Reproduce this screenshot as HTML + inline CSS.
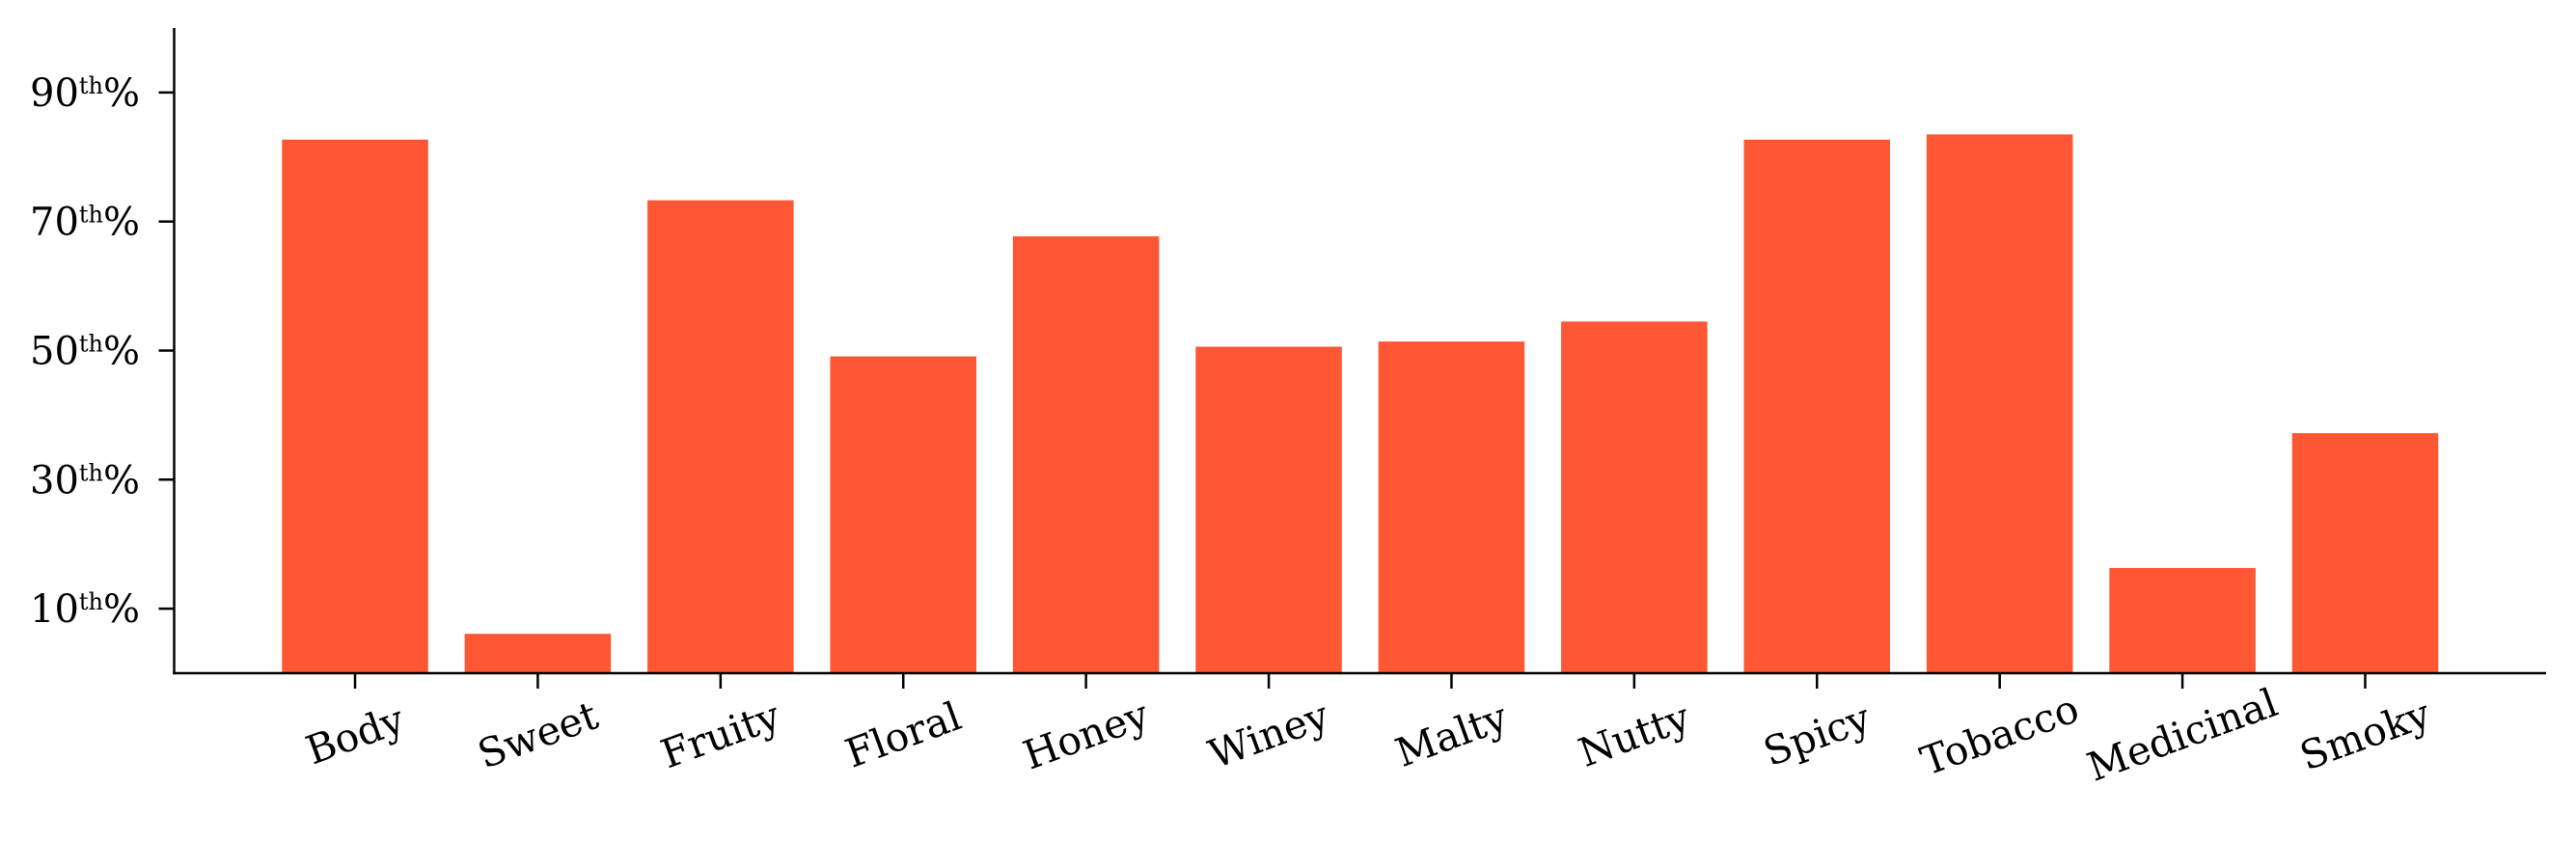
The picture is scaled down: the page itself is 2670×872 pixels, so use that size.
<!DOCTYPE html>
<html><head><meta charset="utf-8"><style>
html,body{margin:0;padding:0;background:#fff;}
svg text{font-family:"DejaVu Serif","Liberation Serif",serif;fill:#000;}
</style></head><body>
<svg id="chart" xmlns="http://www.w3.org/2000/svg" width="2670" height="867" viewBox="0 0 2670 867">
<rect width="2670" height="867" fill="#fff"/>
<g id="bars"></g>
<g id="axes"></g>
</svg>
<script>
const categories = ["Body","Sweet","Fruity","Floral","Honey","Winey","Malty","Nutty","Spicy","Tobacco","Medicinal","Smoky"];
const values = [82.7, 6.1, 73.3, 49.1, 67.7, 50.6, 51.4, 54.5, 82.7, 83.5, 16.3, 37.2];
const yTicks = [10, 30, 50, 70, 90];
const yTickLabels = ["10", "30", "50", "70", "90"];

const L = 180.5, R = 2639, T = 29, B = 698;
const xMin = -0.99, xMax = 11.99, yMin = 0, yMax = 100;
function xs(v){ return L + (v - xMin) / (xMax - xMin) * (R - L); }
function ys(v){ return B - (v - yMin) / (yMax - yMin) * (B - T); }
const NS = "http://www.w3.org/2000/svg";
const bars = document.getElementById('bars');
const axes = document.getElementById('axes');
const bw = (xs(1) - xs(0)) * 0.8;

categories.forEach((c, i) => {
  const r = document.createElementNS(NS, 'rect');
  r.setAttribute('x', xs(i) - bw / 2);
  r.setAttribute('y', ys(values[i]));
  r.setAttribute('width', bw);
  r.setAttribute('height', ys(0) - ys(values[i]));
  r.setAttribute('fill', '#FF5733');
  
  
  bars.appendChild(r);

  const t = document.createElementNS(NS, 'line');
  t.setAttribute('x1', xs(i)); t.setAttribute('x2', xs(i));
  t.setAttribute('y1', B); t.setAttribute('y2', B + 16);
  t.setAttribute('stroke', '#000'); t.setAttribute('stroke-width', '2.5');
  
  
  axes.appendChild(t);

  const lx = xs(i), ly = B + 78;
  const tx = document.createElementNS(NS, 'text');
  tx.setAttribute('x', lx); tx.setAttribute('y', ly);
  tx.setAttribute('text-anchor', 'middle');
  tx.setAttribute('font-size', '41');
  tx.setAttribute('transform', 'rotate(-20 ' + lx + ' ' + (ly - 14) + ')');
  tx.textContent = c;
  
  
  axes.appendChild(tx);
});

yTicks.forEach((v, i) => {
  const y = ys(v);
  const t = document.createElementNS(NS, 'line');
  t.setAttribute('x1', L - 16); t.setAttribute('x2', L);
  t.setAttribute('y1', y); t.setAttribute('y2', y);
  t.setAttribute('stroke', '#000'); t.setAttribute('stroke-width', '2.5');
  
  
  axes.appendChild(t);

  const tx = document.createElementNS(NS, 'text');
  tx.setAttribute('x', 31); tx.setAttribute('y', y + 14);
  tx.setAttribute('font-size', '40');
  tx.innerHTML = yTickLabels[i] + '<tspan font-size="24" dy="-13">th</tspan><tspan dy="13">%</tspan>';
  
  
  axes.appendChild(tx);
});

const ya = document.createElementNS(NS, 'line');
ya.setAttribute('x1', L); ya.setAttribute('x2', L);
ya.setAttribute('y1', T); ya.setAttribute('y2', B + 1.25);
ya.setAttribute('stroke', '#000'); ya.setAttribute('stroke-width', '2.5');


axes.appendChild(ya);

const xa = document.createElementNS(NS, 'line');
xa.setAttribute('x1', L - 1.25); xa.setAttribute('x2', R);
xa.setAttribute('y1', B); xa.setAttribute('y2', B);
xa.setAttribute('stroke', '#000'); xa.setAttribute('stroke-width', '2.5');


axes.appendChild(xa);
</script>
</body></html>
